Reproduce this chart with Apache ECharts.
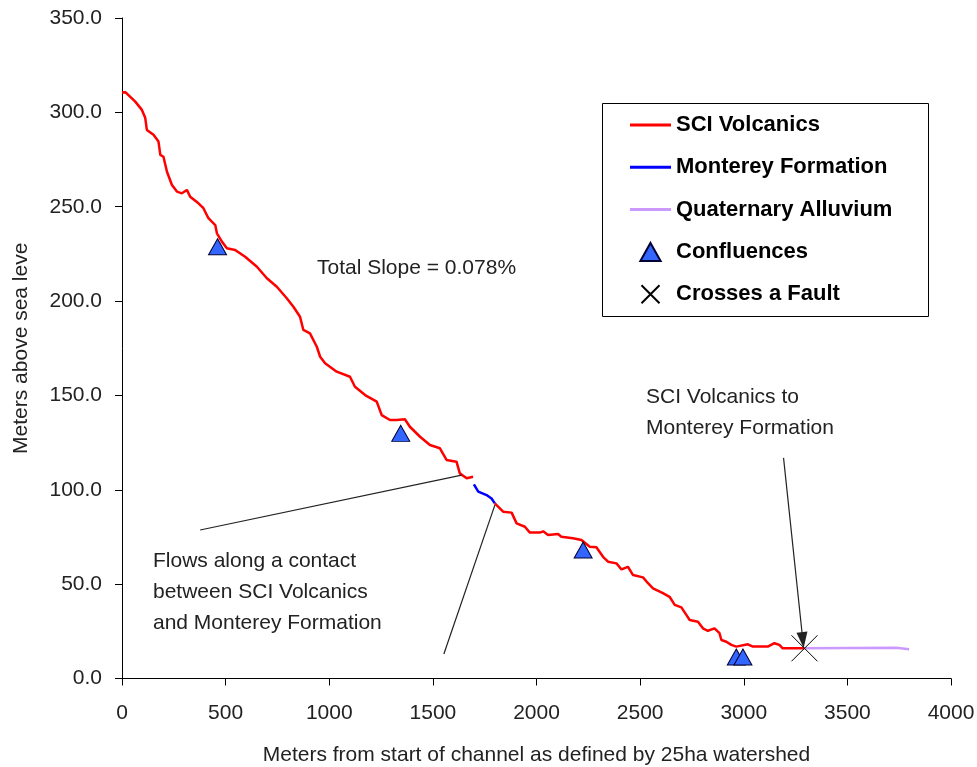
<!DOCTYPE html>
<html>
<head>
<meta charset="utf-8">
<script src="https://cdn.jsdelivr.net/npm/echarts@6/dist/echarts.min.js"></script>
<style>
html,body{margin:0;padding:0;background:#fff;}
#chart{width:977px;height:767px;}
</style>
</head>
<body>
<div id="chart"></div>
<script>
// ---- data (meters along channel, meters above sea level) ----
var sciVolcanicsUpper = [
  [0,310.5],[16,310.7],[64,305.7],[96,301.3],[112,297.1],[120,290.7],[152,288.1],[176,284.5],
  [185,277.5],[200,276.5],[217,268.5],[241,261.5],[265,258.0],[289,257.1],[313,258.9],[329,255.3],
  [369,251.8],[393,249.2],[417,243.9],[450,240.3],[458,235.9],[482,231.5],[506,228.0],[546,227.1],
  [594,223.5],[651,218.2],[699,212.1],[747,207.6],[795,201.5],[827,197.0],[859,191.7],[875,184.7],
  [907,182.9],[940,175.8],[956,170.5],[980,167.0],[1036,162.6],[1100,159.9],[1124,154.6],[1173,150.2],
  [1229,146.7],[1253,139.6],[1293,137.0],[1325,137.0],[1365,137.4],[1389,133.4],[1438,128.1],[1486,123.7],
  [1534,122.0],[1566,115.8],[1614,114.9],[1630,108.7],[1663,106.1],[1694,106.9]
];
var montereyFormation = [
  [1698,102.9],[1719,99.0],[1759,97.2],[1783,95.4],[1799,92.8]
];
var sciVolcanicsLower = [
  [1799,92.8],[1839,88.4],[1880,87.9],[1904,82.2],[1944,80.4],[1968,77.3],[2016,77.3],[2032,78.0],
  [2056,76.0],[2104,76.6],[2120,75.1],[2176,74.3],[2217,73.4],[2257,69.8],[2289,69.5],[2321,64.5],
  [2345,61.9],[2386,61.0],[2410,57.8],[2441,59.2],[2466,54.8],[2514,53.6],[2538,50.5],[2562,47.8],
  [2610,45.2],[2642,43.3],[2667,39.0],[2699,37.7],[2723,33.7],[2739,31.0],[2779,30.1],[2803,26.6],
  [2827,25.3],[2859,26.6],[2883,24.0],[2892,20.4],[2916,19.5],[2940,17.8],[2964,16.9],[3020,18.1],
  [3044,16.9],[3116,16.9],[3148,18.7],[3172,17.8],[3188,16.0],[3293,16.0]
];
var quaternaryAlluvium = [
  [3293,16.0],[3735,16.3],[3743,15.5],[3798,15.5]
];
var confluences = [[461,228.8],[1345,129.9],[2225,68.1],[2964,11.4],[2996,11.4]];
var faultCrossings = [[3293,16.0]];

var xTicks = [0,500,1000,1500,2000,2500,3000,3500,4000];
var yTicks = [0,50,100,150,200,250,300,350];

// annotation leader lines (data coordinates)
var contactLeader1 = [[377,78.7],[1639,107.8]];
var contactLeader2 = [[1553,13.0],[1799,91.9]];
var faultArrow = [[3192,116.9],[3285,20.4]];

var FONT = '"Liberation Sans", Arial, sans-serif';
var chart = echarts.init(document.getElementById('chart'), null, {renderer:'canvas'});

function lineSeries(name, data, color){
  return {
    name: name, type: 'line', data: data, symbol: 'none', showSymbol: false,
    lineStyle: {color: color, width: 2.5}, itemStyle: {color: color},
    animation: false, silent: true, z: 3
  };
}

var LINE_ICON = 'path://M0,0L41,0L41,3L0,3Z';
var TRI_ICON = 'path://M9,0L18,16L0,16Z';
var X_ICON = 'path://M0,0L20,20M20,0L0,20';

var option = {
  backgroundColor: '#fff',
  animation: false,
  grid: {left: 122, right: 26, top: 18, bottom: 88.5, containLabel: false, outerBoundsMode: 'none'},
  xAxis: {
    type: 'value', min: xTicks[0], max: xTicks[xTicks.length-1], interval: 500,
    name: 'Meters from start of channel as defined by 25ha watershed',
    nameLocation: 'middle', nameGap: 66,
    nameTextStyle: {fontFamily: FONT, fontSize: 21, color: '#222'},
    axisLine: {show: true, onZero: false, lineStyle: {color: '#000', width: 1}},
    axisTick: {show: true, inside: false, length: 7, lineStyle: {color: '#000'}},
    axisLabel: {margin: 24, fontFamily: FONT, fontSize: 21, color: '#222',
      formatter: function(v){ return String(v); }},
    splitLine: {show: false}
  },
  yAxis: {
    type: 'value', min: yTicks[0], max: yTicks[yTicks.length-1], interval: 50,
    name: 'Meters above sea leve',
    nameLocation: 'middle', nameGap: 90, nameRotate: 90,
    nameTextStyle: {fontFamily: FONT, fontSize: 21, color: '#222'},
    axisLine: {show: true, onZero: false, lineStyle: {color: '#000', width: 1}},
    axisTick: {show: true, inside: false, length: 7, lineStyle: {color: '#000'}},
    axisLabel: {margin: 20, fontFamily: FONT, fontSize: 21, color: '#222',
      formatter: function(v){ return v.toFixed(1); }},
    splitLine: {show: false}
  },
  legend: {
    orient: 'vertical', left: 630, top: 113, padding: 0,
    itemWidth: 41, itemHeight: 18, itemGap: 18.3,
    selectedMode: false,
    textStyle: {fontFamily: FONT, fontSize: 22, fontWeight: 'bold', color: '#000', lineHeight: 24},
    data: [
      {name: 'SCI Volcanics', icon: LINE_ICON, itemStyle: {color: '#ff0000', borderWidth: 0}},
      {name: 'Monterey Formation', icon: LINE_ICON, itemStyle: {color: '#0000ff', borderWidth: 0}},
      {name: 'Quaternary Alluvium', icon: LINE_ICON, itemStyle: {color: '#cc99ff', borderWidth: 0}},
      {name: 'Confluences', icon: TRI_ICON},
      {name: 'Crosses a Fault', icon: X_ICON}
    ]
  },
  graphic: [
    {type: 'rect', left: 600, top: 101, silent: true,
     shape: {width: 326, height: 213}, style: {fill: 'none', stroke: '#000', lineWidth: 1}},
    {type: 'text', x: 317, y: 268, silent: true,
     style: {text: 'Total Slope = 0.078%', font: '21px ' + FONT, fill: '#222', verticalAlign: 'middle'}},
    {type: 'text', x: 646, y: 397, silent: true,
     style: {text: 'SCI Volcanics to', font: '21px ' + FONT, fill: '#222', verticalAlign: 'middle'}},
    {type: 'text', x: 646, y: 428, silent: true,
     style: {text: 'Monterey Formation', font: '21px ' + FONT, fill: '#222', verticalAlign: 'middle'}},
    {type: 'text', x: 153, y: 561, silent: true,
     style: {text: 'Flows along a contact', font: '21px ' + FONT, fill: '#222', verticalAlign: 'middle'}},
    {type: 'text', x: 153, y: 592, silent: true,
     style: {text: 'between SCI Volcanics', font: '21px ' + FONT, fill: '#222', verticalAlign: 'middle'}},
    {type: 'text', x: 153, y: 623, silent: true,
     style: {text: 'and Monterey Formation', font: '21px ' + FONT, fill: '#222', verticalAlign: 'middle'}}
  ],
  series: [
    lineSeries('SCI Volcanics', sciVolcanicsUpper, '#ff0000'),
    lineSeries('Monterey Formation', montereyFormation, '#0000ff'),
    lineSeries('SCI Volcanics', sciVolcanicsLower, '#ff0000'),
    lineSeries('Quaternary Alluvium', quaternaryAlluvium, '#cc99ff'),
    {
      name: 'Confluences', type: 'scatter', data: confluences,
      symbol: 'triangle', symbolSize: [18, 16],
      itemStyle: {color: '#3366ff', borderColor: '#000033', borderWidth: 1, opacity: 1},
      animation: false, silent: true, z: 4
    },
    {
      name: 'Crosses a Fault', type: 'scatter', data: faultCrossings,
      symbol: X_ICON, symbolSize: 26,
      itemStyle: {color: 'rgba(0,0,0,0)', borderColor: '#000', borderWidth: 1, opacity: 1},
      animation: false, silent: true, z: 5,
      markLine: {
        silent: true, animation: false,
        label: {show: false},
        lineStyle: {color: '#222', width: 1.2, type: 'solid'},
        data: [
          [{coord: contactLeader1[0], symbol: 'none'}, {coord: contactLeader1[1], symbol: 'none'}],
          [{coord: contactLeader2[0], symbol: 'none'}, {coord: contactLeader2[1], symbol: 'none'}],
          [{coord: faultArrow[0], symbol: 'none'}, {coord: faultArrow[1], symbol: 'triangle', symbolSize: [11, 16]}]
        ]
      }
    }
  ]
};
chart.setOption(option);
</script>
</body>
</html>
